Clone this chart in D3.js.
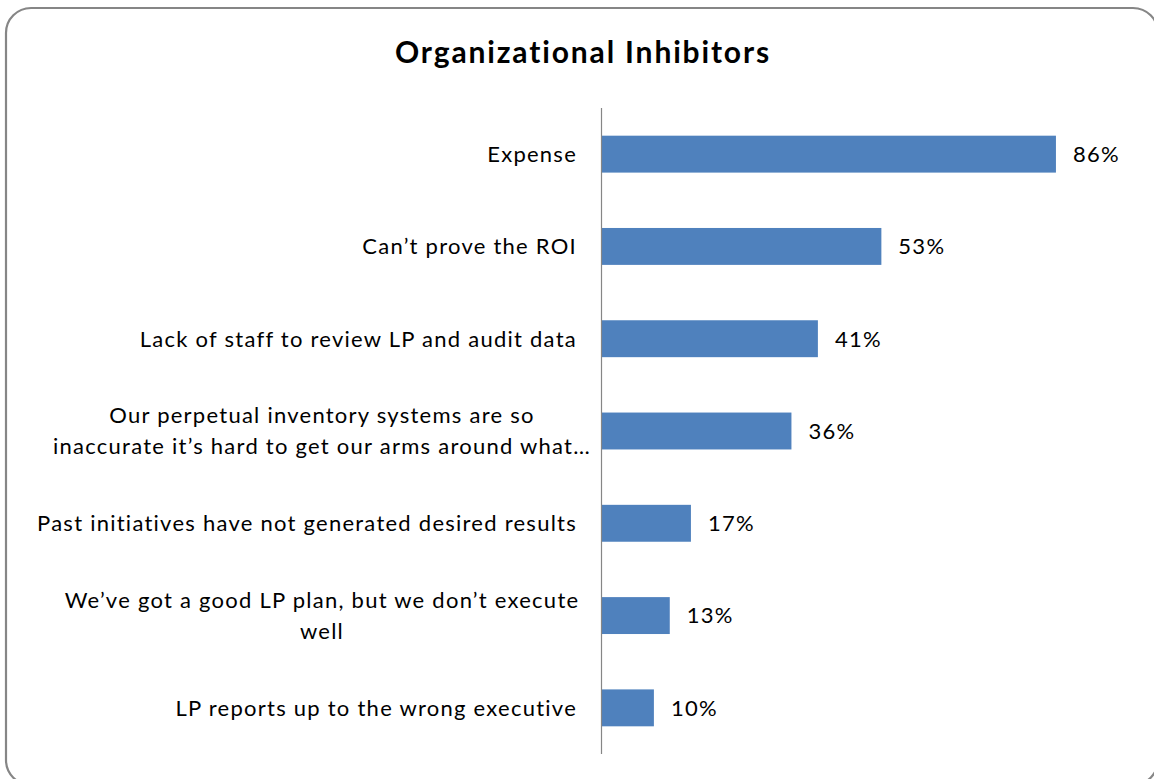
<!DOCTYPE html>
<html>
<head>
<meta charset="utf-8">
<script src="https://cdn.jsdelivr.net/npm/d3@7"></script>
<style>
  html, body { margin: 0; padding: 0; background: #fff; }
  svg { display: block; }
  text { font-family: Lato, "Open Sans", sans-serif; fill: #000; font-variant-ligatures: none; }
</style>
</head>
<body>
<svg id="chart" width="1154" height="779"></svg>
<script>
// Chart data
const title = "Organizational Inhibitors";
const categories = [
  ["Expense"],
  ["Can\u2019t prove the ROI"],
  ["Lack of staff to review LP and audit data"],
  ["Our perpetual inventory systems are so", "inaccurate it\u2019s hard to get our arms around what\u2026"],
  ["Past initiatives have not generated desired results"],
  ["We\u2019ve got a good LP plan, but we don\u2019t execute", "well"],
  ["LP reports up to the wrong executive"]
];
const values = [0.86, 0.53, 0.41, 0.36, 0.17, 0.13, 0.10];

const plot = { left: 601, top: 108, bottom: 754, right: 1130 };
const svg = d3.select("#chart");

// Rounded outer frame
svg.append("rect")
  .attr("x", 6).attr("y", 8)
  .attr("width", 1152).attr("height", 777)
  .attr("rx", 25).attr("ry", 25)
  .attr("fill", "#fff")
  .attr("stroke", "#868686")
  .attr("stroke-width", 2.2);

// Title
svg.append("text")
  .attr("x", 583).attr("y", 63)
  .attr("text-anchor", "middle")
  .style("font-size", "30px")
  .style("font-weight", "bold")
  .style("letter-spacing", "1.85px")
  .text(title);

const idx = d3.range(categories.length);
const y = d3.scaleBand()
  .domain(idx)
  .range([plot.top, plot.bottom])
  .paddingInner(0.6)
  .paddingOuter(0.3);

const x = d3.scaleLinear()
  .domain([0, 1])
  .range([plot.left, plot.right]);

// Bars
svg.append("g").selectAll("rect")
  .data(idx)
  .join("rect")
  .attr("x", x(0))
  .attr("y", i => y(i))
  .attr("width", i => x(values[i]) - x(0))
  .attr("height", y.bandwidth())
  .attr("fill", "#4F81BD");

// Category axis line
svg.append("line")
  .attr("x1", x(0) + 0.5).attr("x2", x(0) + 0.5)
  .attr("y1", plot.top).attr("y2", plot.bottom)
  .attr("stroke", "#868686")
  .attr("stroke-width", 1.2);

// Category labels: single lines end at the axis gap, wrapped labels are centred in the label area
const labelRight = 577, labelCentre = 322, lineGap = 31, fs = 22, ls = 1.25;
const lab = svg.append("g")
  .style("font-size", fs + "px")
  .style("letter-spacing", ls + "px");
idx.forEach(i => {
  const lines = categories[i];
  const cy = y(i) + y.bandwidth() / 2;
  const multi = lines.length > 1;
  lines.forEach((s, k) => {
    lab.append("text")
      .attr("x", multi ? labelCentre : labelRight)
      .attr("y", cy + (k - (lines.length - 1) / 2) * lineGap)
      .attr("dy", "0.36em")
      .attr("text-anchor", multi ? "middle" : "end")
      .text(s);
  });
});

// Value labels
svg.append("g")
  .style("font-size", fs + "px")
  .style("letter-spacing", ls + "px")
  .selectAll("text")
  .data(idx)
  .join("text")
  .attr("x", i => x(values[i]) + 17)
  .attr("y", i => y(i) + y.bandwidth() / 2)
  .attr("dy", "0.36em")
  .text(i => d3.format(".0%")(values[i]));
</script>
</body>
</html>
